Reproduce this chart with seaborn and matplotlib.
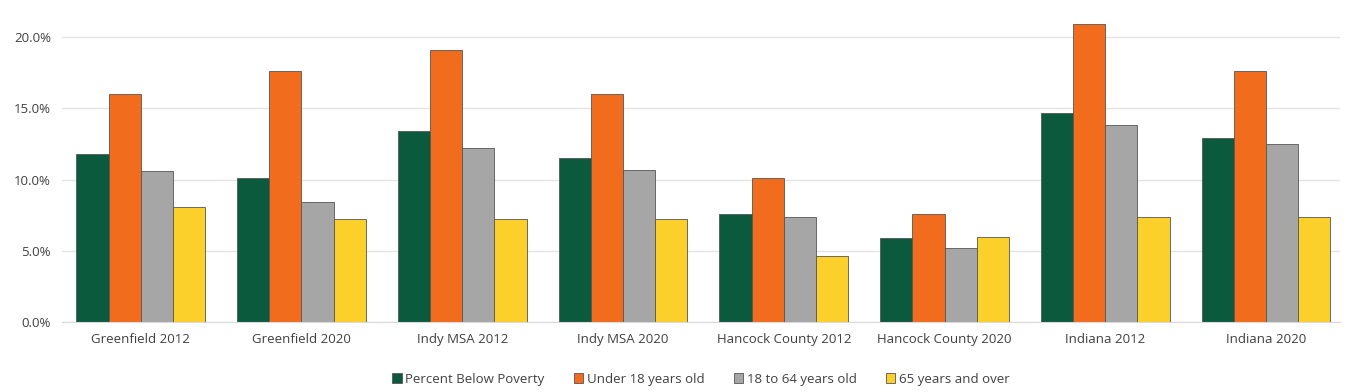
import pandas as pd
import matplotlib.pyplot as plt
import seaborn as sns
from matplotlib.ticker import FuncFormatter

# Data (percent)
places = ['Greenfield 2012', 'Greenfield 2020', 'Indy MSA 2012', 'Indy MSA 2020',
          'Hancock County 2012', 'Hancock County 2020', 'Indiana 2012', 'Indiana 2020']
below_poverty = [11.8, 10.1, 13.4, 11.5, 7.6, 5.9, 14.7, 12.9]
under_18 = [16.0, 17.6, 19.1, 16.0, 10.1, 7.6, 20.9, 17.6]
age_18_64 = [10.6, 8.4, 12.2, 10.7, 7.4, 5.2, 13.8, 12.5]
age_65_plus = [8.1, 7.2, 7.2, 7.2, 4.6, 6.0, 7.4, 7.4]

series = ['Percent Below Poverty', 'Under 18 years old', '18 to 64 years old', '65 years and over']
colors = ['#0B5A3E', '#F26C1E', '#A6A6A6', '#FCD02A']

df = pd.DataFrame({
    'Place': places * 4,
    'Group': [s for s in series for _ in places],
    'Value': below_poverty + under_18 + age_18_64 + age_65_plus,
})

sns.set_style('white')
plt.rcParams['font.family'] = ['Open Sans', 'DejaVu Sans']

fig = plt.figure(figsize=(13.59, 3.92), dpi=100)
ax = fig.add_axes([0.0456, 0.1786, 0.9404, 0.8214])

sns.barplot(data=df, x='Place', y='Value', hue='Group', order=places, hue_order=series,
            palette=colors, width=0.8, edgecolor='#555555', linewidth=0.6, saturation=1, ax=ax)

ax.set_ylim(0, 22.6)
ax.set_xlim(-0.49, 7.46)
ax.set_yticks([0, 5, 10, 15, 20])
ax.yaxis.set_major_formatter(FuncFormatter(lambda v, p: f'{v:.1f}%'))
ax.grid(axis='y', color='#E3E3E3', linewidth=1)
ax.set_axisbelow(True)
for s in ['top', 'right', 'left']:
    ax.spines[s].set_visible(False)
ax.spines['bottom'].set_color('#D9D9D9')
ax.tick_params(axis='both', length=0, labelsize=9.5, colors='#404040', pad=8)
ax.set_xlabel('')
ax.set_ylabel('')

ax.legend(loc='upper center', bbox_to_anchor=(0.5, -0.12), ncol=4, frameon=False,
          fontsize=9.5, handlelength=0.7, handleheight=0.7, handletextpad=0.3,
          columnspacing=2.2, labelcolor='#404040')

plt.savefig('out.png', dpi=100)
